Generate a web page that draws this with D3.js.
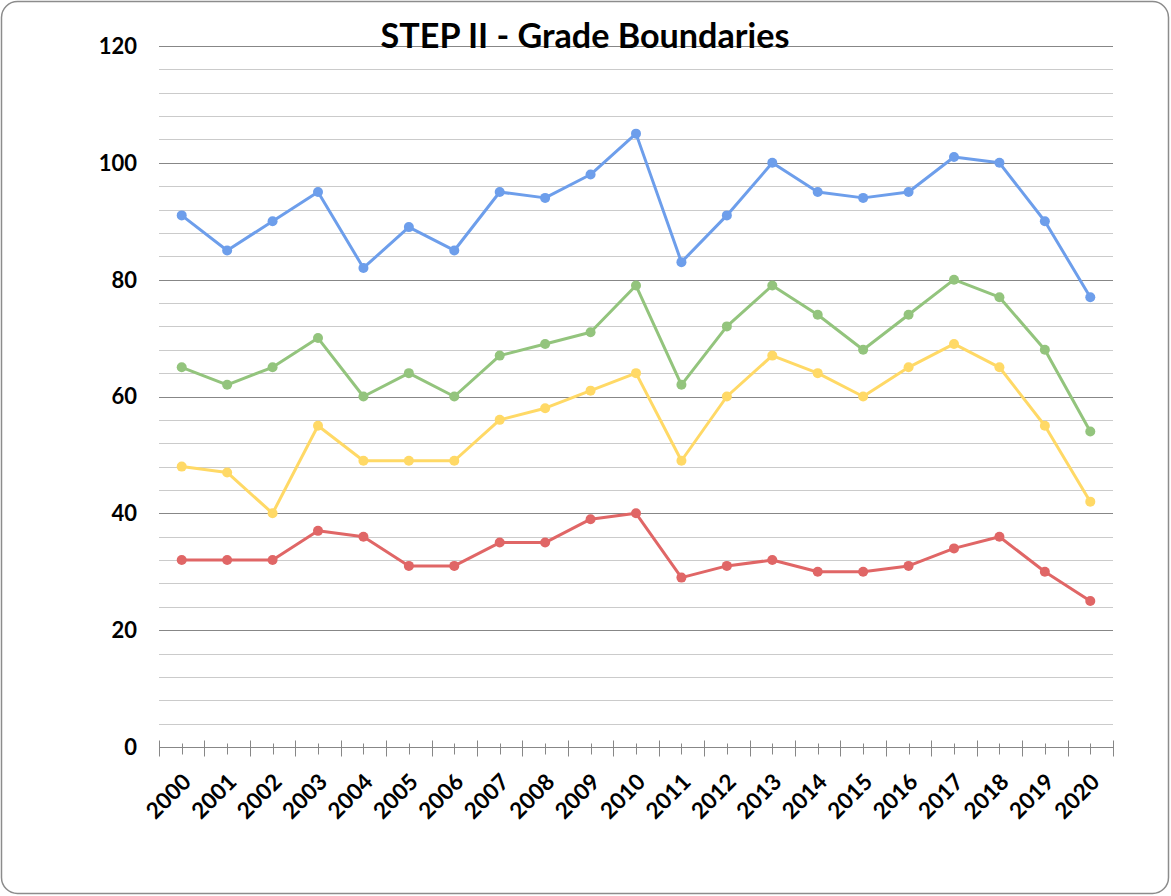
<!DOCTYPE html>
<html>
<head>
<meta charset="utf-8">
<script src="https://cdn.jsdelivr.net/npm/d3@7"></script>
<style>
  body { margin: 0; background: #fff; }
  text { font-family: Lato, "Open Sans", sans-serif; font-weight: bold; }
</style>
</head>
<body>
<div id="chart"></div>
<script>
// data
const years = d3.range(2000, 2021).map(String);
const blue   = [91, 85, 90, 95, 82, 89, 85, 95, 94, 98, 105, 83, 91, 100, 95, 94, 95, 101, 100, 90, 77];
const green  = [65, 62, 65, 70, 60, 64, 60, 67, 69, 71, 79, 62, 72, 79, 74, 68, 74, 80, 77, 68, 54];
const yellow = [48, 47, 40, 55, 49, 49, 49, 56, 58, 61, 64, 49, 60, 67, 64, 60, 65, 69, 65, 55, 42];
const red    = [32, 32, 32, 37, 36, 31, 31, 35, 35, 39, 40, 29, 31, 32, 30, 30, 31, 34, 36, 30, 25];
const yTicks = d3.range(0, 121, 20);
const gridTicks = d3.range(0, 121, 4);

const series = [
  {name: "blue", values: blue, color: "#6d9eeb"},
  {name: "green", values: green, color: "#93c47d"},
  {name: "yellow", values: yellow, color: "#ffd966"},
  {name: "red", values: red, color: "#e06666"}
];

const width = 1171, height = 896;
const margin = {top: 46, right: 58, bottom: 149, left: 159};

const svg = d3.select("#chart").append("svg")
  .attr("width", width)
  .attr("height", height);

// outer frame
svg.append("rect")
  .attr("x", 1.5).attr("y", 1.5)
  .attr("width", width - 4).attr("height", height - 4)
  .attr("rx", 16)
  .attr("fill", "#fff")
  .attr("stroke", "#8c8c8c")
  .attr("stroke-width", 1.5);

const x = d3.scaleBand(years, [margin.left, width - margin.right]).padding(0);
const y = d3.scaleLinear([0, 120], [height - margin.bottom, margin.top]);

// gridlines
svg.append("g")
  .selectAll("line")
  .data(gridTicks.filter(d => d > 0))
  .join("line")
    .attr("x1", margin.left)
    .attr("x2", width - margin.right)
    .attr("y1", d => Math.round(y(d)) + 0.5)
    .attr("y2", d => Math.round(y(d)) + 0.5)
    .attr("stroke", d => d % 20 === 0 ? "#878787" : "#cbcbcb")
    .attr("stroke-width", 1);

// y labels
svg.append("g")
  .selectAll("text")
  .data(yTicks)
  .join("text")
    .attr("x", 137)
    .attr("y", d => y(d))
    .attr("dy", "0.36em")
    .attr("text-anchor", "end")
    .style("font-size", "22px")
    .attr("fill", "#000")
    .text(d => d);

// x axis line + ticks
const axisY = Math.round(y(0)) + 0.5;
const ax = svg.append("g").attr("stroke", "#878787").attr("stroke-width", 1);
ax.append("line")
  .attr("x1", margin.left).attr("x2", width - margin.right)
  .attr("y1", axisY).attr("y2", axisY);
const bounds = years.map(d => x(d)).concat([x(years[years.length - 1]) + x.bandwidth()]);
ax.selectAll(".major")
  .data(bounds)
  .join("line")
    .attr("class", "major")
    .attr("x1", d => Math.round(d) + 0.5).attr("x2", d => Math.round(d) + 0.5)
    .attr("y1", axisY - 7).attr("y2", axisY + 9);
ax.selectAll(".minor")
  .data(years)
  .join("line")
    .attr("class", "minor")
    .attr("x1", d => Math.round(x(d) + x.bandwidth() / 2) + 0.5)
    .attr("x2", d => Math.round(x(d) + x.bandwidth() / 2) + 0.5)
    .attr("y1", axisY - 4).attr("y2", axisY + 7);

// x labels
svg.append("g")
  .selectAll("text")
  .data(years)
  .join("text")
    .attr("transform", d => `translate(${x(d) + x.bandwidth() / 2 + 5},${axisY + 30}) rotate(-45)`)
    .attr("text-anchor", "end")
    .attr("dy", "0.36em")
    .style("font-size", "22.5px")
    .attr("fill", "#000")
    .text(d => d);

// lines
const line = d3.line()
  .x((d, i) => x(years[i]) + x.bandwidth() / 2)
  .y(d => y(d));

const g = svg.append("g");
series.forEach(s => {
  g.append("path")
    .datum(s.values)
    .attr("fill", "none")
    .attr("stroke", s.color)
    .attr("stroke-width", 3)
    .attr("stroke-linejoin", "round")
    .attr("d", line);
  g.append("g")
    .selectAll("circle")
    .data(s.values)
    .join("circle")
      .attr("cx", (d, i) => x(years[i]) + x.bandwidth() / 2)
      .attr("cy", d => y(d))
      .attr("r", 5)
      .attr("fill", s.color);
});

// title
const title = svg.append("text")
  .attr("x", 585)
  .attr("y", 48)
  .attr("text-anchor", "middle")
  .style("font-size", "33px")
  .attr("fill", "#000")
  .text("STEP II - Grade Boundaries");
const tw = title.node().getComputedTextLength();
title.style("font-size", (33 * 409 / tw) + "px");
</script>
</body>
</html>
